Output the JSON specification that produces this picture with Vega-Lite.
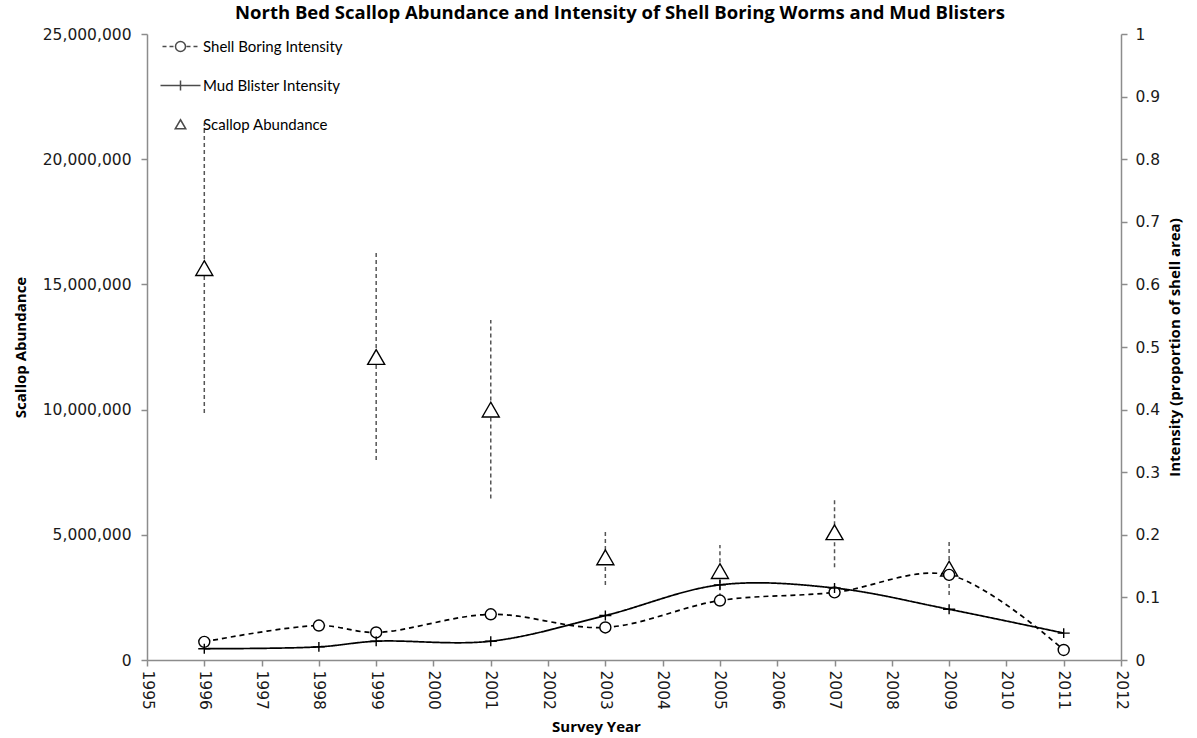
{
  "$schema": "https://vega.github.io/schema/vega-lite/v6.json",
  "width": 974,
  "height": 626,
  "autosize": {"type": "none"},
  "padding": {"left": 147, "top": 34, "right": 76, "bottom": 78},
  "background": "white",
  "title": {
    "text": "North Bed Scallop Abundance and Intensity of Shell Boring Worms and Mud Blisters",
    "font": "Open Sans", "fontSize": 18.5, "fontWeight": "bold", "color": "black",
    "anchor": "middle", "dx": -14, "offset": 5
  },
  "config": {
    "view": {"stroke": null},
    "axis": {
      "grid": false,
      "domainColor": "#8c8c8c", "domainWidth": 1.5,
      "tickColor": "#8c8c8c", "tickWidth": 1.5, "tickSize": 6,
      "labelFont": "DejaVu Sans", "labelFontSize": 15.5, "labelColor": "#1a1a1a",
      "titleFont": "Open Sans", "titleFontSize": 15, "titleFontWeight": "bold", "titleColor": "black"
    }
  },
  "datasets": {
    "abundance": [
      {"year": 1996, "series": "Scallop Abundance", "abundance": 15650000, "low": 9860000, "high": 21440000},
      {"year": 1999, "series": "Scallop Abundance", "abundance": 12100000, "low": 7990000, "high": 16250000},
      {"year": 2001, "series": "Scallop Abundance", "abundance": 10000000, "low": 6450000, "high": 13580000},
      {"year": 2003, "series": "Scallop Abundance", "abundance": 4100000, "low": 3000000, "high": 5190000},
      {"year": 2005, "series": "Scallop Abundance", "abundance": 3550000, "low": 2510000, "high": 4590000},
      {"year": 2007, "series": "Scallop Abundance", "abundance": 5100000, "low": 3700000, "high": 6500000},
      {"year": 2009, "series": "Scallop Abundance", "abundance": 3650000, "low": 2600000, "high": 4710000}
    ],
    "intensity": [
      {"year": 1996, "series": "Shell Boring Intensity", "value": 0.029},
      {"year": 1998, "series": "Shell Boring Intensity", "value": 0.055},
      {"year": 1999, "series": "Shell Boring Intensity", "value": 0.044},
      {"year": 2001, "series": "Shell Boring Intensity", "value": 0.073},
      {"year": 2003, "series": "Shell Boring Intensity", "value": 0.052},
      {"year": 2005, "series": "Shell Boring Intensity", "value": 0.095},
      {"year": 2007, "series": "Shell Boring Intensity", "value": 0.108},
      {"year": 2009, "series": "Shell Boring Intensity", "value": 0.136},
      {"year": 2011, "series": "Shell Boring Intensity", "value": 0.016},
      {"year": 1996, "series": "Mud Blister Intensity", "value": 0.018},
      {"year": 1998, "series": "Mud Blister Intensity", "value": 0.021},
      {"year": 1999, "series": "Mud Blister Intensity", "value": 0.030},
      {"year": 2001, "series": "Mud Blister Intensity", "value": 0.030},
      {"year": 2003, "series": "Mud Blister Intensity", "value": 0.071},
      {"year": 2005, "series": "Mud Blister Intensity", "value": 0.120},
      {"year": 2007, "series": "Mud Blister Intensity", "value": 0.115},
      {"year": 2009, "series": "Mud Blister Intensity", "value": 0.081},
      {"year": 2011, "series": "Mud Blister Intensity", "value": 0.043}
    ]
  },
  "layer": [
    {
      "data": {"name": "abundance"},
      "layer": [
        {
          "mark": {"type": "rule", "strokeDash": [4, 3], "color": "#555555", "strokeWidth": 1.5},
          "encoding": {
            "x": {"field": "year", "type": "quantitative", "scale": {"domain": [1995, 2012], "nice": false},
              "axis": {"values": [1995,1996,1997,1998,1999,2000,2001,2002,2003,2004,2005,2006,2007,2008,2009,2010,2011,2012],
                "labelExpr": "format(datum.value, 'd')", "labelAngle": 90, "labelPadding": 4, "title": "Survey Year", "titleX": 449, "titlePadding": 10}},
            "y": {"field": "low", "type": "quantitative", "scale": {"domain": [0, 25000000], "nice": false},
              "axis": {"orient": "left", "values": [0, 5000000, 10000000, 15000000, 20000000, 25000000], "labelExpr": "format(datum.value, ',')",
                "title": "Scallop Abundance", "labelPadding": 10, "titlePadding": 14}},
            "y2": {"field": "high"}
          }
        },
        {
          "mark": {"type": "point", "shape": "triangle-up", "filled": true, "fill": "white", "stroke": "black", "strokeWidth": 1.4, "size": 289, "opacity": 1},
          "encoding": {
            "x": {"field": "year", "type": "quantitative"},
            "y": {"field": "abundance", "type": "quantitative"}
          }
        }
      ]
    },
    {
      "data": {"name": "intensity"},
      "layer": [
        {
          "mark": {"type": "line", "interpolate": "catmull-rom", "color": "black", "strokeWidth": 1.7},
          "encoding": {
            "x": {"field": "year", "type": "quantitative"},
            "y": {"field": "value", "type": "quantitative", "scale": {"domain": [0, 1], "nice": false},
              "axis": {"orient": "right", "values": [0,0.1,0.2,0.3,0.4,0.5,0.6,0.7,0.8,0.9,1], "labelExpr": "format(datum.value, '~g')",
                "title": "Intensity (proportion of shell area)", "titleAngle": -90, "labelPadding": 8, "titlePadding": 23}},
            "strokeDash": {"field": "series", "type": "nominal",
              "scale": {"domain": ["Shell Boring Intensity", "Mud Blister Intensity"], "range": [[5, 4], [1, 0]]},
              "legend": null},
            "detail": {"field": "series", "type": "nominal"}
          }
        },
        {
          "transform": [{"filter": "datum.series === 'Shell Boring Intensity'"}],
          "mark": {"type": "point", "shape": "circle", "filled": true, "fill": "white", "stroke": "black", "strokeWidth": 1.4, "size": 121, "opacity": 1},
          "encoding": {
            "x": {"field": "year", "type": "quantitative"},
            "y": {"field": "value", "type": "quantitative"}
          }
        },
        {
          "transform": [{"filter": "datum.series === 'Mud Blister Intensity'"}],
          "mark": {"type": "point", "shape": "M0,-0.9V0.9M-1.1,0H1.1", "filled": true, "fill": "white", "stroke": "black", "strokeWidth": 1.4, "size": 121, "opacity": 1},
          "encoding": {
            "x": {"field": "year", "type": "quantitative"},
            "y": {"field": "value", "type": "quantitative"}
          }
        },
        {
          "mark": {"type": "point", "filled": true, "fill": "white", "stroke": "black", "strokeWidth": 1.3, "size": 0},
          "encoding": {
            "x": {"field": "year", "type": "quantitative"},
            "y": {"field": "value", "type": "quantitative"},
            "shape": {
              "field": "series", "type": "nominal",
              "scale": {
                "domain": ["Shell Boring Intensity", "Mud Blister Intensity", "Scallop Abundance"],
                "range": [
                  "M-3.6,0H-2.8M-2.2,0H-1.4M1,0A1,1 0 1,1 -1,0A1,1 0 1,1 1,0M1.2,0H2M2.6,0H3.4",
                  "M-4,0H4M0,-1V1",
                  "M0,-0.95L1.05,0.85L-1.05,0.85Z"
                ]
              },
              "legend": {
                "title": null, "orient": "none", "legendX": 26, "legendY": 5, "padding": 0,
                "symbolSize": 100,
                "labelFont": "Lato", "labelFontSize": 15, "labelColor": "black", "labelOffset": 15, "rowPadding": 22
              }
            }
          }
        }
      ]
    }
  ],
  "resolve": {"scale": {"y": "independent"}}
}
